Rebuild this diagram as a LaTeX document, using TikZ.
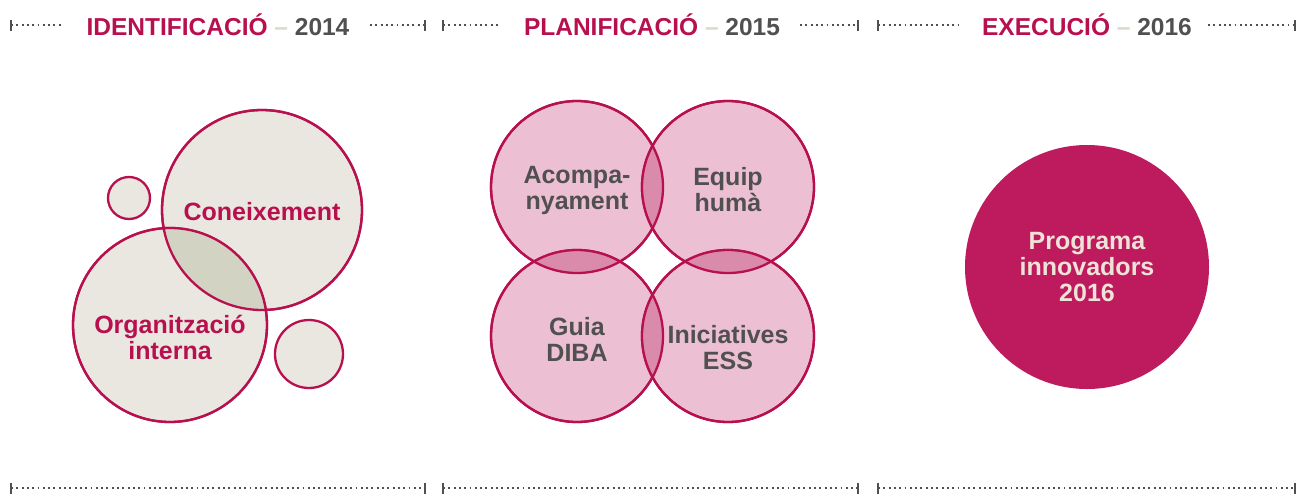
\documentclass[tikz,border=0pt]{standalone}
\usepackage{fontspec}
\setmainfont{Liberation Sans}
\usetikzlibrary{positioning}
\definecolor{DibaCrimson}{HTML}{B8104F}
\definecolor{DibaMagenta}{HTML}{BE1A5E}
\definecolor{DibaGray}{HTML}{505050}
\definecolor{DibaDash}{HTML}{D8D8CC}
\definecolor{DibaBeige}{HTML}{E9E7E0}
\definecolor{DibaBeigeDark}{HTML}{D3D3C4}
\definecolor{DibaPink}{HTML}{EDBFD2}
\definecolor{DibaPinkDark}{HTML}{DA8AAB}
\definecolor{DibaCream}{HTML}{EDE3D6}

\begin{document}
\begin{tikzpicture}[x=1pt,y=-1pt,
    dots/.style={DibaGray, line width=1.9pt, dash pattern=on 1.9pt off 3.4pt},
    endbar/.style={DibaGray, line width=2pt},
    bubble/.style={circle, draw=DibaCrimson, line width=2.3pt, inner sep=0pt},
    ring/.style={DibaCrimson, line width=2.3pt},
    heading/.style={anchor=base, font=\fontsize{24.5}{26}\selectfont\bfseries, inner sep=0pt},
    bubbletext/.style={align=center, font=\fontsize{25}{26}\selectfont\bfseries}]
    \useasboundingbox (0,0) rectangle (1309,493);

    % headers and rules
    \foreach \n/\cx/\a/\b/\c/\d/\ttl/\yr in {1/218/11/63/370/425/IDENTIFICACIÓ/2014,
                                            2/652/443/500/800/858/PLANIFICACIÓ/2015,
                                            3/1087/878/960/1208/1295/EXECUCIÓ/2016} {
        \node[heading] (head\n) at (\cx,35) {\textcolor{DibaCrimson}{\ttl}
            \textcolor{DibaDash}{–} \textcolor{DibaGray}{\yr}};
        \coordinate (top\n a) at (\a,25);
        \coordinate (top\n b) at (\b,25);
        \coordinate (top\n c) at (\c,25);
        \coordinate (top\n d) at (\d,25);
        \coordinate (bot\n a) at (\a,488);
        \coordinate (bot\n d) at (\d,488);
        \draw[dots] (top\n a) -- (top\n b);
        \draw[dots] (top\n c) -- (top\n d);
        \draw[dots] (bot\n a) -- (bot\n d);
        \foreach \p in {top\n a, top\n d, bot\n a, bot\n d}
            \draw[endbar] ([yshift=5.5pt]\p) -- ([yshift=-5.5pt]\p);
    }

    % identificacio
    \node[bubble, fill=DibaBeige, minimum size=42] (dotA) at (129,198) {};
    \node[bubble, fill=DibaBeige, minimum size=200] (con) at (262,210) {};
    \node[bubble, fill=DibaBeige, minimum size=194] (org) at (170,325) {};
    \node[bubble, fill=DibaBeige, minimum size=68] (dotB) at (309,354) {};
    \begin{scope}
        \clip (con.center) circle (100pt);
        \fill[DibaBeigeDark] (org.center) circle (97pt);
    \end{scope}
    \draw[ring] (con.center) circle (100pt) (org.center) circle (97pt);
    \node[bubbletext, DibaCrimson] (conText) at ([yshift=-2pt]con) {Coneixement};
    \node[bubbletext, DibaCrimson] (orgText) at ([yshift=-12pt]org) {Organització\\interna};

    % planificacio
    \node[bubble, fill=DibaPink, minimum size=172] (acomp) at (577,187) {};
    \node[bubble, fill=DibaPink, minimum size=172] (equip) at (728,187) {};
    \node[bubble, fill=DibaPink, minimum size=172] (guia) at (577,336) {};
    \node[bubble, fill=DibaPink, minimum size=172] (inic) at (728,336) {};
    \foreach \u/\v in {acomp/equip, guia/inic, acomp/guia, equip/inic} {
        \begin{scope}
            \clip (\u.center) circle (86pt);
            \fill[DibaPinkDark] (\v.center) circle (86pt);
        \end{scope}
    }
    \foreach \u in {acomp, equip, guia, inic}
        \draw[ring] (\u.center) circle (86pt);
    \node[bubbletext, DibaGray] (acompText) at ([yshift=-3pt]acomp) {Acompa-\\nyament};
    \node[bubbletext, DibaGray] (equipText) at ([yshift=-3pt]equip) {Equip\\humà};
    \node[bubbletext, DibaGray] (guiaText) at ([yshift=-3pt]guia) {Guia\\DIBA};
    \node[bubbletext, DibaGray] (inicText) at ([yshift=-12pt]inic) {Iniciatives\\ESS};

    % execucio
    \node[bubble, draw=none, fill=DibaMagenta, minimum size=244] (prog) at (1087,267) {};
    \node[bubbletext, DibaCream] (progText) at (prog) {Programa\\innovadors\\2016};
\end{tikzpicture}
\end{document}
